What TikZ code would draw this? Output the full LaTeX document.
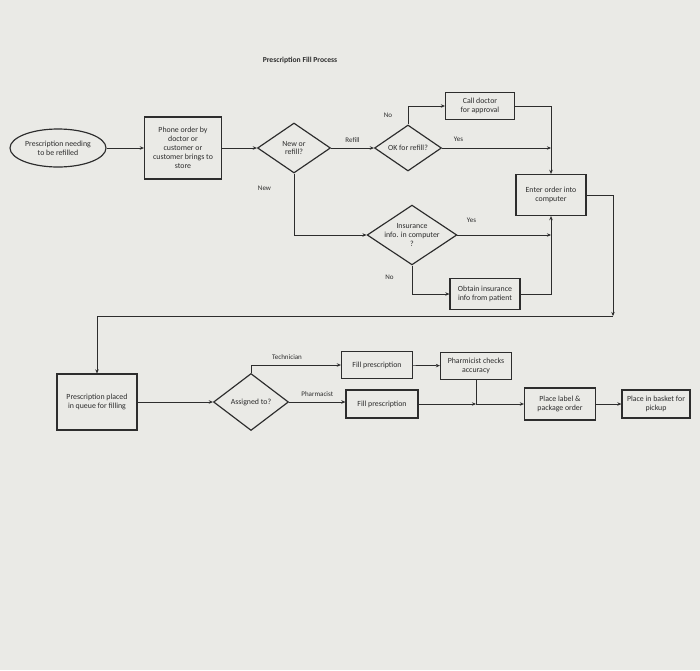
\documentclass[tikz,border=0pt]{standalone}
\usepackage{fontspec}
\setmainfont{Carlito}
\usepackage{tikz}
\usetikzlibrary{shapes.geometric,arrows.meta}
\definecolor{Paper}{RGB}{234,234,230}
\definecolor{Ink}{RGB}{45,45,45}

\begin{document}
\begin{tikzpicture}[x=0.03cm, y=-0.03cm, font=\fontsize{6.7}{7.6}\selectfont, text=Ink,
		box/.style={draw=Ink, line width=1pt, align=center, inner sep=1pt},
		decision/.style={draw=Ink, line width=1pt, diamond, aspect=1.5, inner sep=0pt, align=center},
		flow/.style={draw=Ink, line width=0.6pt, -{Stealth[length=3.5pt, width=3pt]}},
		link/.style={draw=Ink, line width=0.6pt},
		lbl/.style={font=\fontsize{6}{6.5}\selectfont}]
		
		% Page
		\fill[Paper] (0,0) rectangle (700,670);
		\useasboundingbox (0,0) rectangle (700,670);
		
		% Title
		\node[font=\fontsize{6.5}{7.5}\selectfont\bfseries] (title) at (300,60) {Prescription Fill Process};
		
		% Order intake
		\node[draw=Ink, line width=1pt, ellipse, inner sep=0pt, minimum width=2.88cm, minimum height=1.14cm, align=center] (need) at (58,148) {Prescription needing\\to be refilled};
		\node[box, minimum width=2.31cm, minimum height=1.86cm] (phone) at (183,148) {Phone order by\\doctor or\\customer or\\customer brings to\\store};
		\node[decision, minimum width=2.19cm, minimum height=1.5cm] (newq) at (294,148) {New or\\refill?};
		\node[decision, minimum width=2.01cm, minimum height=1.38cm] (okq) at (408,148) {OK for refill?};
		\node[box, minimum width=2.07cm, minimum height=0.81cm] (call) at (480,106) {Call doctor\\for approval};
		\node[box, minimum width=2.1cm, minimum height=1.23cm] (enter) at (551,195) {Enter order into\\computer};
		\node[decision, minimum width=2.16cm, minimum height=1.62cm] (insq) at (412,235) {Insurance\\info. in computer\\?};
		\node[box, minimum width=2.1cm, minimum height=0.93cm] (obtain) at (485,294) {Obtain insurance\\info from patient};
		
		% Filling
		\node[box, minimum width=2.4cm, minimum height=1.68cm] (queue) at (97,402) {Prescription placed\\in queue for filling};
		\node[decision, minimum width=2.25cm, minimum height=1.71cm] (assign) at (251,402) {Assigned to?};
		\node[box, minimum width=2.13cm, minimum height=0.81cm] (fill1) at (377,365) {Fill prescription};
		\node[box, minimum width=2.13cm, minimum height=0.81cm] (check) at (476,366) {Pharmicist checks\\accuracy};
		\node[box, minimum width=2.16cm, minimum height=0.84cm] (fill2) at (382,404) {Fill prescription};
		\node[box, minimum width=2.13cm, minimum height=0.96cm] (place) at (560,404) {Place label \&\\package order};
		\node[box, minimum width=2.04cm, minimum height=0.84cm] (basket) at (656,404) {Place in basket for\\pickup};
		
		% Flows
		\draw[flow] (need) -- (phone);
		\draw[flow] (phone) -- (newq);
		\draw[flow] (newq.east) -- (okq.west) node[lbl, midway, above=1pt] {Refill};
		\draw[flow] (okq.north) |- (call.west) node[lbl, pos=0.25, left=10pt] {No};
		\draw[flow] (call.east) -| (enter.north);
		\draw[flow] (okq.east) -- (okq.east -| enter.north) node[lbl, pos=0.15, above=2pt] {Yes};
		\draw[flow] (newq.south) |- (insq.west) node[lbl, pos=0.12, left=16pt] {New};
		\draw[flow] (insq.east) -- (insq.east -| enter.south) node[lbl, pos=0.15, above=7pt] {Yes};
		\draw[flow] (insq.south) |- (obtain.west) node[lbl, pos=0.2, left=12pt] {No};
		\draw[flow] (obtain.east) -| (enter.south);
		
		\coordinate (join) at (613,316);
		\draw[flow] (enter.east) -| (join);
		\draw[flow] (join) -| (queue.north);
		
		\draw[flow] (queue) -- (assign);
		\draw[flow] (assign.north) |- (fill1.west) node[lbl, pos=0.7, above=1pt] {Technician};
		\draw[flow] (assign.east) -- (fill2.west |- assign.east) node[lbl, midway, above=1pt] {Pharmacist};
		\draw[flow] (fill1) -- (check);
		\coordinate (merge) at (check.south |- fill2.east);
		\draw[link] (check.south) -- (merge);
		\draw[flow] (fill2.east) -- (merge);
		\draw[flow] (merge) -- (place.west);
		\draw[flow] (place) -- (basket);
		
	\end{tikzpicture}
\end{document}
